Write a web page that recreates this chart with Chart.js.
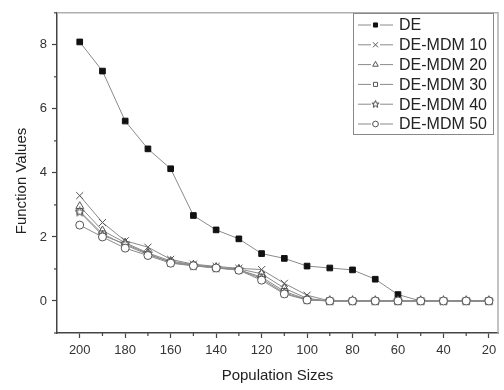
<!DOCTYPE html>
<html><head><meta charset="utf-8">
<script src="https://cdn.jsdelivr.net/npm/chart.js@4/dist/chart.umd.min.js"></script>
<style>html,body{margin:0;padding:0;background:#fff}</style>
</head><body>
<canvas id="c" width="504" height="390"></canvas>
<script>
const populationSizes = [200,190,180,170,160,150,140,130,120,110,100,90,80,70,60,50,40,30,20];
const de      = [8.09,7.18,5.62,4.75,4.13,2.67,2.22,1.94,1.48,1.33,1.09,1.03,0.97,0.68,0.20,0,0,0,0];
const deMdm10 = [3.29,2.45,1.88,1.68,1.30,1.15,1.08,1.02,0.98,0.55,0.18,0,0,0,0,0,0,0,0];
const deMdm20 = [2.96,2.20,1.82,1.50,1.25,1.13,1.05,1.00,0.85,0.40,0.08,0,0,0,0,0,0,0,0];
const deMdm30 = [2.80,2.10,1.75,1.45,1.22,1.12,1.04,0.97,0.75,0.30,0.05,0,0,0,0,0,0,0,0];
const deMdm40 = [2.78,2.05,1.78,1.48,1.20,1.10,1.03,0.98,0.70,0.25,0.04,0,0,0,0,0,0,0,0];
const deMdm50 = [2.37,2.00,1.65,1.42,1.18,1.10,1.03,0.96,0.65,0.22,0.03,0,0,0,0,0,0,0,0];
const seriesNames = ['DE','DE-MDM 10','DE-MDM 20','DE-MDM 30','DE-MDM 40','DE-MDM 50'];
const xMajorTicks = [200,180,160,140,120,100,80,60,40,20];
const xMinorTicks = [190,170,150,130,110,90,70,50,30];
const yMajorTicks = [0,2,4,6,8];
const yMinorTicks = [-1,1,3,5,7,9];
const yTitle = 'Function Values';
const FONT = '"Liberation Sans", Arial, sans-serif';

function makeStar(size, outer, inner){
  const c=document.createElement('canvas');c.width=size;c.height=size;
  const g=c.getContext('2d');g.beginPath();const m=size/2;
  for(let i=0;i<10;i++){const r=i%2?inner:outer;const a=-Math.PI/2+i*Math.PI/5;g.lineTo(m+r*Math.cos(a),m+r*Math.sin(a));}
  g.closePath();g.fillStyle='#fff';g.fill();g.strokeStyle='#444';g.lineWidth=1;g.stroke();return c;
}
const starImg = makeStar(11,4.8,2.0);
const starLegend = makeStar(9,3.8,1.6);

const seriesValues=[de,deMdm10,deMdm20,deMdm30,deMdm40,deMdm50];
const styles=[
  {pointStyle:'rect',radius:4,bg:'#111',bc:'#111'},
  {pointStyle:'crossRot',radius:5,bg:'#fff',bc:'#555'},
  {pointStyle:'triangle',radius:4.5,bg:'#fff',bc:'#555'},
  {pointStyle:'rect',radius:4,bg:'#fff',bc:'#555'},
  {pointStyle:starImg,radius:5,bg:'#fff',bc:'#555'},
  {pointStyle:'circle',radius:4,bg:'#fff',bc:'#555'}
];
const datasets=seriesValues.map((vals,i)=>({
  label:seriesNames[i],
  data:populationSizes.map((x,j)=>({x:x,y:vals[j]})),
  borderColor:'#8a8a8a',borderWidth:1,
  pointStyle:styles[i].pointStyle,pointRadius:styles[i].radius,
  pointBackgroundColor:styles[i].bg,pointBorderColor:styles[i].bc,pointBorderWidth:1,
  tension:0,fill:false
})).reverse();

const extras={
  id:'extras',
  afterDraw(chart){
    const ctx=chart.ctx,a=chart.chartArea,xs=chart.scales.x,ys=chart.scales.y;
    ctx.save();
    ctx.strokeStyle='#b0b0b0';ctx.lineWidth=1.5;
    ctx.beginPath();ctx.moveTo(a.left,a.top);ctx.lineTo(a.right,a.top);ctx.lineTo(a.right,a.bottom);ctx.stroke();
    ctx.strokeStyle='#444';ctx.lineWidth=1.2;
    xMinorTicks.forEach(v=>{const px=xs.getPixelForValue(v);ctx.beginPath();ctx.moveTo(px,a.bottom);ctx.lineTo(px,a.bottom+3);ctx.stroke();});
    yMinorTicks.forEach(v=>{const py=ys.getPixelForValue(v);ctx.beginPath();ctx.moveTo(a.left,py);ctx.lineTo(a.left-3,py);ctx.stroke();});
    // y title
    ctx.save();ctx.translate(22,181);ctx.rotate(-Math.PI/2);
    ctx.font='15px '+FONT;ctx.fillStyle='#222';ctx.textAlign='center';ctx.textBaseline='middle';
    ctx.fillText(yTitle,0,0);ctx.restore();
    // legend
    const lx=353.5,ly=13.5,lw=140,lh=121;
    ctx.fillStyle='#fff';ctx.fillRect(lx,ly,lw,lh);
    ctx.strokeStyle='#888';ctx.lineWidth=1;ctx.strokeRect(lx,ly,lw,lh);
    ctx.font='16px '+FONT;ctx.textBaseline='middle';ctx.textAlign='left';
    seriesNames.forEach((name,i)=>{
      const y=25+i*19.8;
      ctx.strokeStyle='#8a8a8a';ctx.lineWidth=1;
      ctx.beginPath();ctx.moveTo(358,y);ctx.lineTo(393,y);ctx.stroke();
      const st=styles[i];
      ctx.fillStyle='#fff';ctx.fillRect(371,y-4,9,8);
      ctx.strokeStyle=st.bc;ctx.lineWidth=1;
      if(st.pointStyle===starImg){ctx.drawImage(starLegend,371,y-4.5);}
      else{ctx.fillStyle=st.bg;Chart.helpers.drawPoint(ctx,{pointStyle:st.pointStyle,radius:st.radius*0.72,borderWidth:1,rotation:0},375.5,y);}
      ctx.fillStyle='#222';ctx.fillText(name,399,y+1);
    });
    ctx.restore();
  }
};

new Chart(document.getElementById('c'),{
  type:'line',
  data:{datasets:datasets},
  options:{
    responsive:false,animation:false,
    layout:{padding:{top:5,right:2,left:0,bottom:0}},
    plugins:{legend:{display:false},tooltip:{enabled:false}},
    scales:{
      x:{type:'linear',reverse:true,min:16,max:210,
        afterBuildTicks:s=>{s.ticks=xMajorTicks.map(v=>({value:v}));},
        afterFit:s=>{s.height=57;},
        grid:{drawOnChartArea:false,drawTicks:true,tickLength:5,tickColor:'#444',tickWidth:1.2},
        border:{display:true,color:'#444',width:1.5},
        ticks:{color:'#333',font:{size:13,family:FONT},padding:5,maxRotation:0},
        title:{display:true,text:'Population Sizes',color:'#222',font:{size:15,family:FONT},padding:{top:0,bottom:5}}
      },
      y:{type:'linear',min:-1,max:9,
        afterBuildTicks:s=>{s.ticks=yMajorTicks.map(v=>({value:v}));},
        afterFit:s=>{s.width=57;},
        grid:{drawOnChartArea:false,drawTicks:true,tickLength:5,tickColor:'#444',tickWidth:1.2},
        border:{display:true,color:'#444',width:1.5},
        ticks:{color:'#333',font:{size:13,family:FONT},padding:5},
        title:{display:false}
      }
    }
  },
  plugins:[extras]
});
</script>
</body></html>
